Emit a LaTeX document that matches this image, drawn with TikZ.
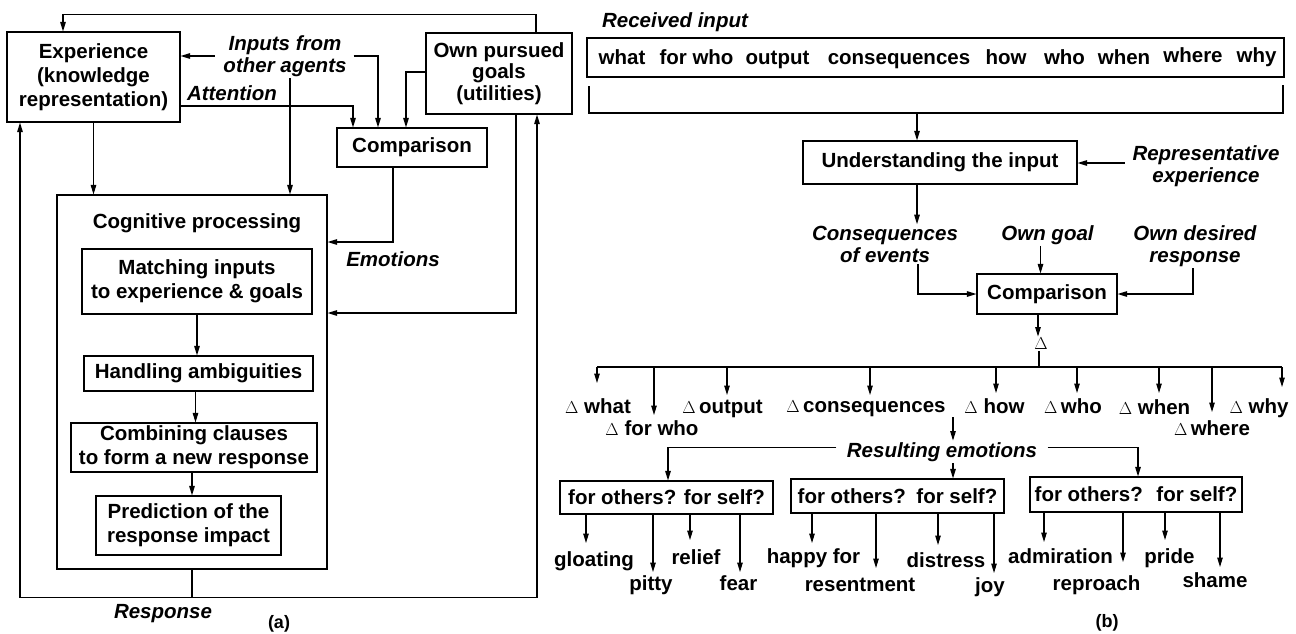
\documentclass[tikz,border=0pt]{standalone}
\usepackage{fontspec}
\setmainfont{Liberation Sans}
\usetikzlibrary{arrows.meta}
\newcommand{\dsym}{{\fontsize{17}{17}\selectfont$\Delta$}}
\begin{document}
\begin{tikzpicture}[x=1pt,y=-1pt,line width=1.1pt,
  every node/.style={font=\bfseries\fontsize{20.5}{24}\selectfont, inner sep=1pt},
  box/.style={draw, align=center, inner sep=0pt},
  lab/.style={font=\bfseries\itshape\fontsize{20.5}{22}\selectfont, align=center},
  wrd/.style={anchor=base},
  arr/.style={-{Triangle[length=9.5pt,width=5.5pt]}},
]
\useasboundingbox (0,0) rectangle (1296,633);

% ---------------- (a) ----------------
\node[box, minimum width=173pt, minimum height=90pt] (exp) at (93.5,77) {Experience\\(knowledge\\representation)};
\node[lab] (inp) at (285,56) {Inputs from\\other agents};
\node[lab, anchor=base] (att) at (232,100) {Attention};
\node[box, minimum width=146pt, minimum height=81pt, font=\bfseries\fontsize{20.5}{21.5}\selectfont] (own) at (499,73.5) {Own pursued\\goals\\(utilities)};
\node[box, minimum width=150pt, minimum height=39pt] (cmpL) at (412,147.5) {Comparison};
\node[box, minimum width=270pt, minimum height=374pt] (cog) at (192,382) {};
\node[anchor=base] (cogt) at (197,228) {Cognitive processing};
\node[lab, anchor=base] (emo) at (393,266) {Emotions};
\node[box, minimum width=230pt, minimum height=65pt] (match) at (197,281.5) {Matching inputs\\to experience \& goals};
\node[box, minimum width=229pt, minimum height=35pt] (hand) at (198.5,373.5) {Handling ambiguities};
\node[box, minimum width=246pt, minimum height=49pt] (comb) at (194,447.5) {Combining clauses\\to form a new response};
\node[box, minimum width=185pt, minimum height=59pt] (pred) at (188.5,525.5) {Prediction of the\\response impact};
\node[lab, anchor=base] (resp) at (163,618) {Response};
\node[anchor=base, font=\bfseries\fontsize{18}{18}\selectfont] (capa) at (279,628) {(a)};

\draw[arr] ([xshift=37pt]own.north) -- ++(0,-18) -| ([xshift=-30.5pt]exp.north);
\draw[arr] ([xshift=-7pt]inp.west) -- (inp.west -| exp.east);
\draw[arr] ([xshift=5.5pt]inp.east) -| ([xshift=-34pt]cmpL.north);
\draw[arr] ([xshift=5pt]inp.south) -- ([xshift=5pt]inp.south |- cog.north);
\draw[arr] ([yshift=-29pt]exp.east) -| ([xshift=-59pt]cmpL.north);
\draw[arr] ([yshift=1.5pt]own.west) -| ([xshift=-6pt]cmpL.north);
\draw[arr] (exp.south) -- (exp.south |- cog.north);
\draw[arr] ([xshift=-19pt]cmpL.south) |- ([yshift=140pt]cog.east);
\draw[arr] ([xshift=17pt]own.south) |- ([yshift=69pt]cog.east);
\draw[arr] (cog.south) -- ++(0,28) -| ([xshift=-73.5pt]exp.south);
\draw[arr] ([yshift=-28pt]cog.south) -| ([xshift=38pt]own.south);
\draw[arr] (match.south) -- (match.south |- hand.north);
\draw[arr] ([xshift=-3pt]hand.south) -- ([xshift=-3pt]hand.south |- comb.north);
\draw[arr] ([xshift=-2pt]comb.south) -- ([xshift=-2pt]comb.south |- pred.north);

% ---------------- (b) ----------------
\node[lab, anchor=base] (recv) at (675,27) {Received input};
\node[box, minimum width=697pt, minimum height=39pt] (inbox) at (935.5,57.5) {};
\node[wrd] (w1) at (622,64) {what};
\node[wrd] (w2) at (696.5,64) {for who};
\node[wrd] (w3) at (777.5,64) {output};
\node[wrd] (w4) at (899,64) {consequences};
\node[wrd] (w5) at (1006,64) {how};
\node[wrd] (w6) at (1064.5,64) {who};
\node[wrd] (w7) at (1124,64) {when};
\node[wrd] (w8) at (1193,62) {where};
\node[wrd] (w9) at (1256.5,62) {why};

\draw (589,86) -- (589,113) -- (1283,113) -- (1283,85);
\coordinate (brk) at (917,113);
\node[box, minimum width=274pt, minimum height=43pt] (und) at (940,162.5) {Understanding the input};
\draw[arr] (brk) -- (brk |- und.north);
\node[lab] (rep) at (1206,166) {Representative\\experience};
\draw[arr] ([xshift=-6pt,yshift=3pt]rep.west) -- ([yshift=3pt]rep.west -| und.east);

\node[lab] (cons) at (885,244) {Consequences\\of events};
\draw[arr] ([xshift=-23pt]und.south) -- ([xshift=-23pt]und.south |- cons.north);
\node[lab, anchor=base] (goal) at (1047.5,240) {Own goal};
\node[box, minimum width=140pt, minimum height=40pt] (cmpR) at (1047,294) {Comparison};
\node[lab] (des) at (1195,246) {Own desired\\response};
\draw[arr] ([xshift=33pt]cons.south) |- (cmpR.west);
\draw[arr] ([xshift=-7pt]goal.south) -- ([xshift=-7pt]goal.south |- cmpR.north);
\draw[arr] ([xshift=-2pt]des.south) |- (cmpR.east);

\node[font=\fontsize{17}{17}\selectfont] (delta) at (1041,344) {$\Delta$};
\draw[arr] ([xshift=-9pt]cmpR.south) -- ([xshift=-9pt]cmpR.south |- delta.north);
\coordinate (hb) at (1039,367);
\coordinate (hL) at (597,367);
\coordinate (hR) at (1282,367);
\draw (delta.south -| hb) -- (hb);
\draw (hL) -- (hR);

\node[anchor=base] (dwhat) at (598,413) {\dsym{} what};
\node[anchor=base] (dfor) at (652,435) {\dsym{} for who};
\node[anchor=base] (dout) at (722.5,413) {\dsym\,output};
\node[anchor=base] (dcons) at (866,412) {\dsym\,consequences};
\node[anchor=base] (dhow) at (994.5,413) {\dsym{} how};
\node[anchor=base] (dwho) at (1073,413) {\dsym\,who};
\node[anchor=base] (dwhen) at (1154.5,414) {\dsym{} when};
\node[anchor=base] (dwhere) at (1212,435) {\dsym\,where};
\node[anchor=base] (dwhy) at (1259,413) {\dsym{} why};

\draw[arr] ([xshift=-1pt]dwhat.base |- hL) -- ([xshift=-1pt,yshift=30pt]dwhat.base);
\draw[arr] ([xshift=2pt]dfor.base |- hL) -- ([xshift=2pt,yshift=20pt]dfor.base);
\draw[arr] ([xshift=4.5pt]dout.base |- hL) -- ([xshift=4.5pt,yshift=18pt]dout.base);
\draw[arr] ([xshift=4pt]dcons.base |- hL) -- ([xshift=4pt,yshift=17pt]dcons.base);
\draw[arr] ([xshift=1.5pt]dhow.base |- hL) -- ([xshift=1.5pt,yshift=20pt]dhow.base);
\draw[arr] ([xshift=4pt]dwho.base |- hL) -- ([xshift=4pt,yshift=20pt]dwho.base);
\draw[arr] ([xshift=4.5pt]dwhen.base |- hL) -- ([xshift=4.5pt,yshift=21pt]dwhen.base);
\draw[arr] (dwhere.base |- hL) -- ([yshift=23pt]dwhere.base);
\draw[arr] ([xshift=23pt]dwhy.base |- hL) -- ([xshift=23pt,yshift=26pt]dwhy.base);

\node[lab, anchor=base] (res) at (942,457) {Resulting emotions};
\node[box, minimum width=213pt, minimum height=33pt] (f1) at (666.5,497.5) {for others? for self?};
\node[box, minimum width=213pt, minimum height=34pt] (f2) at (897.5,496) {for others?\hspace{3pt} for self?};
\node[box, minimum width=212pt, minimum height=35pt] (f3) at (1136,494.5) {for others?\hspace{6pt} for self?};

\draw[arr] ([xshift=87pt,yshift=-5pt]dcons.base) -- ([xshift=11pt]res.north);
\draw[arr] ([xshift=-9pt,yshift=4pt]res.west) -| ([xshift=1.5pt]f1.north);
\draw[arr] ([xshift=9pt,yshift=4pt]res.east) -| ([xshift=2pt]f3.north);
\draw[arr] ([xshift=11pt]res.south) -- ([xshift=11pt]res.south |- f2.north);

\node[anchor=base] (glo) at (594,566) {gloating};
\node[anchor=base] (pit) at (651,590) {pitty};
\node[anchor=base] (rel) at (696,564) {relief};
\node[anchor=base] (fea) at (738.5,590) {fear};
\node[anchor=base] (hap) at (813.5,563) {happy for};
\node[anchor=base] (rst) at (860,591) {resentment};
\node[anchor=base] (dis) at (946,567) {distress};
\node[anchor=base] (joy) at (990,592) {joy};
\node[anchor=base] (adm) at (1060.5,563) {admiration};
\node[anchor=base] (rpr) at (1096.5,590) {reproach};
\node[anchor=base] (pri) at (1169.5,563) {pride};
\node[anchor=base] (sha) at (1215,587) {shame};

\draw[arr] ([xshift=-8pt]glo.base |- f1.south) -- ([xshift=-8pt,yshift=23pt]glo.base);
\draw[arr] ([xshift=2pt]pit.base |- f1.south) -- ([xshift=2pt,yshift=18pt]pit.base);
\draw[arr] ([xshift=-6pt]rel.base |- f1.south) -- ([xshift=-6pt,yshift=24pt]rel.base);
\draw[arr] ([xshift=1.5pt]fea.base |- f1.south) -- ([xshift=1.5pt,yshift=18pt]fea.base);
\draw[arr] ([xshift=-1.5pt]hap.base |- f2.south) -- ([xshift=-1.5pt,yshift=20pt]hap.base);
\draw[arr] ([xshift=16pt]rst.base |- f2.south) -- ([xshift=16pt,yshift=23pt]rst.base);
\draw[arr] ([xshift=-8pt]dis.base |- f2.south) -- ([xshift=-8pt,yshift=22pt]dis.base);
\draw[arr] ([xshift=4pt]joy.base |- f2.south) -- ([xshift=4pt,yshift=19pt]joy.base);
\draw[arr] ([xshift=-16.5pt]adm.base |- f3.south) -- ([xshift=-16.5pt,yshift=21pt]adm.base);
\draw[arr] ([xshift=26.5pt]rpr.base |- f3.south) -- ([xshift=26.5pt,yshift=28pt]rpr.base);
\draw[arr] ([xshift=-4.5pt]pri.base |- f3.south) -- ([xshift=-4.5pt,yshift=23pt]pri.base);
\draw[arr] ([xshift=5pt]sha.base |- f3.south) -- ([xshift=5pt,yshift=20pt]sha.base);

\node[anchor=base, font=\bfseries\fontsize{18}{18}\selectfont] (capb) at (1107,627) {(b)};
\end{tikzpicture}
\end{document}
